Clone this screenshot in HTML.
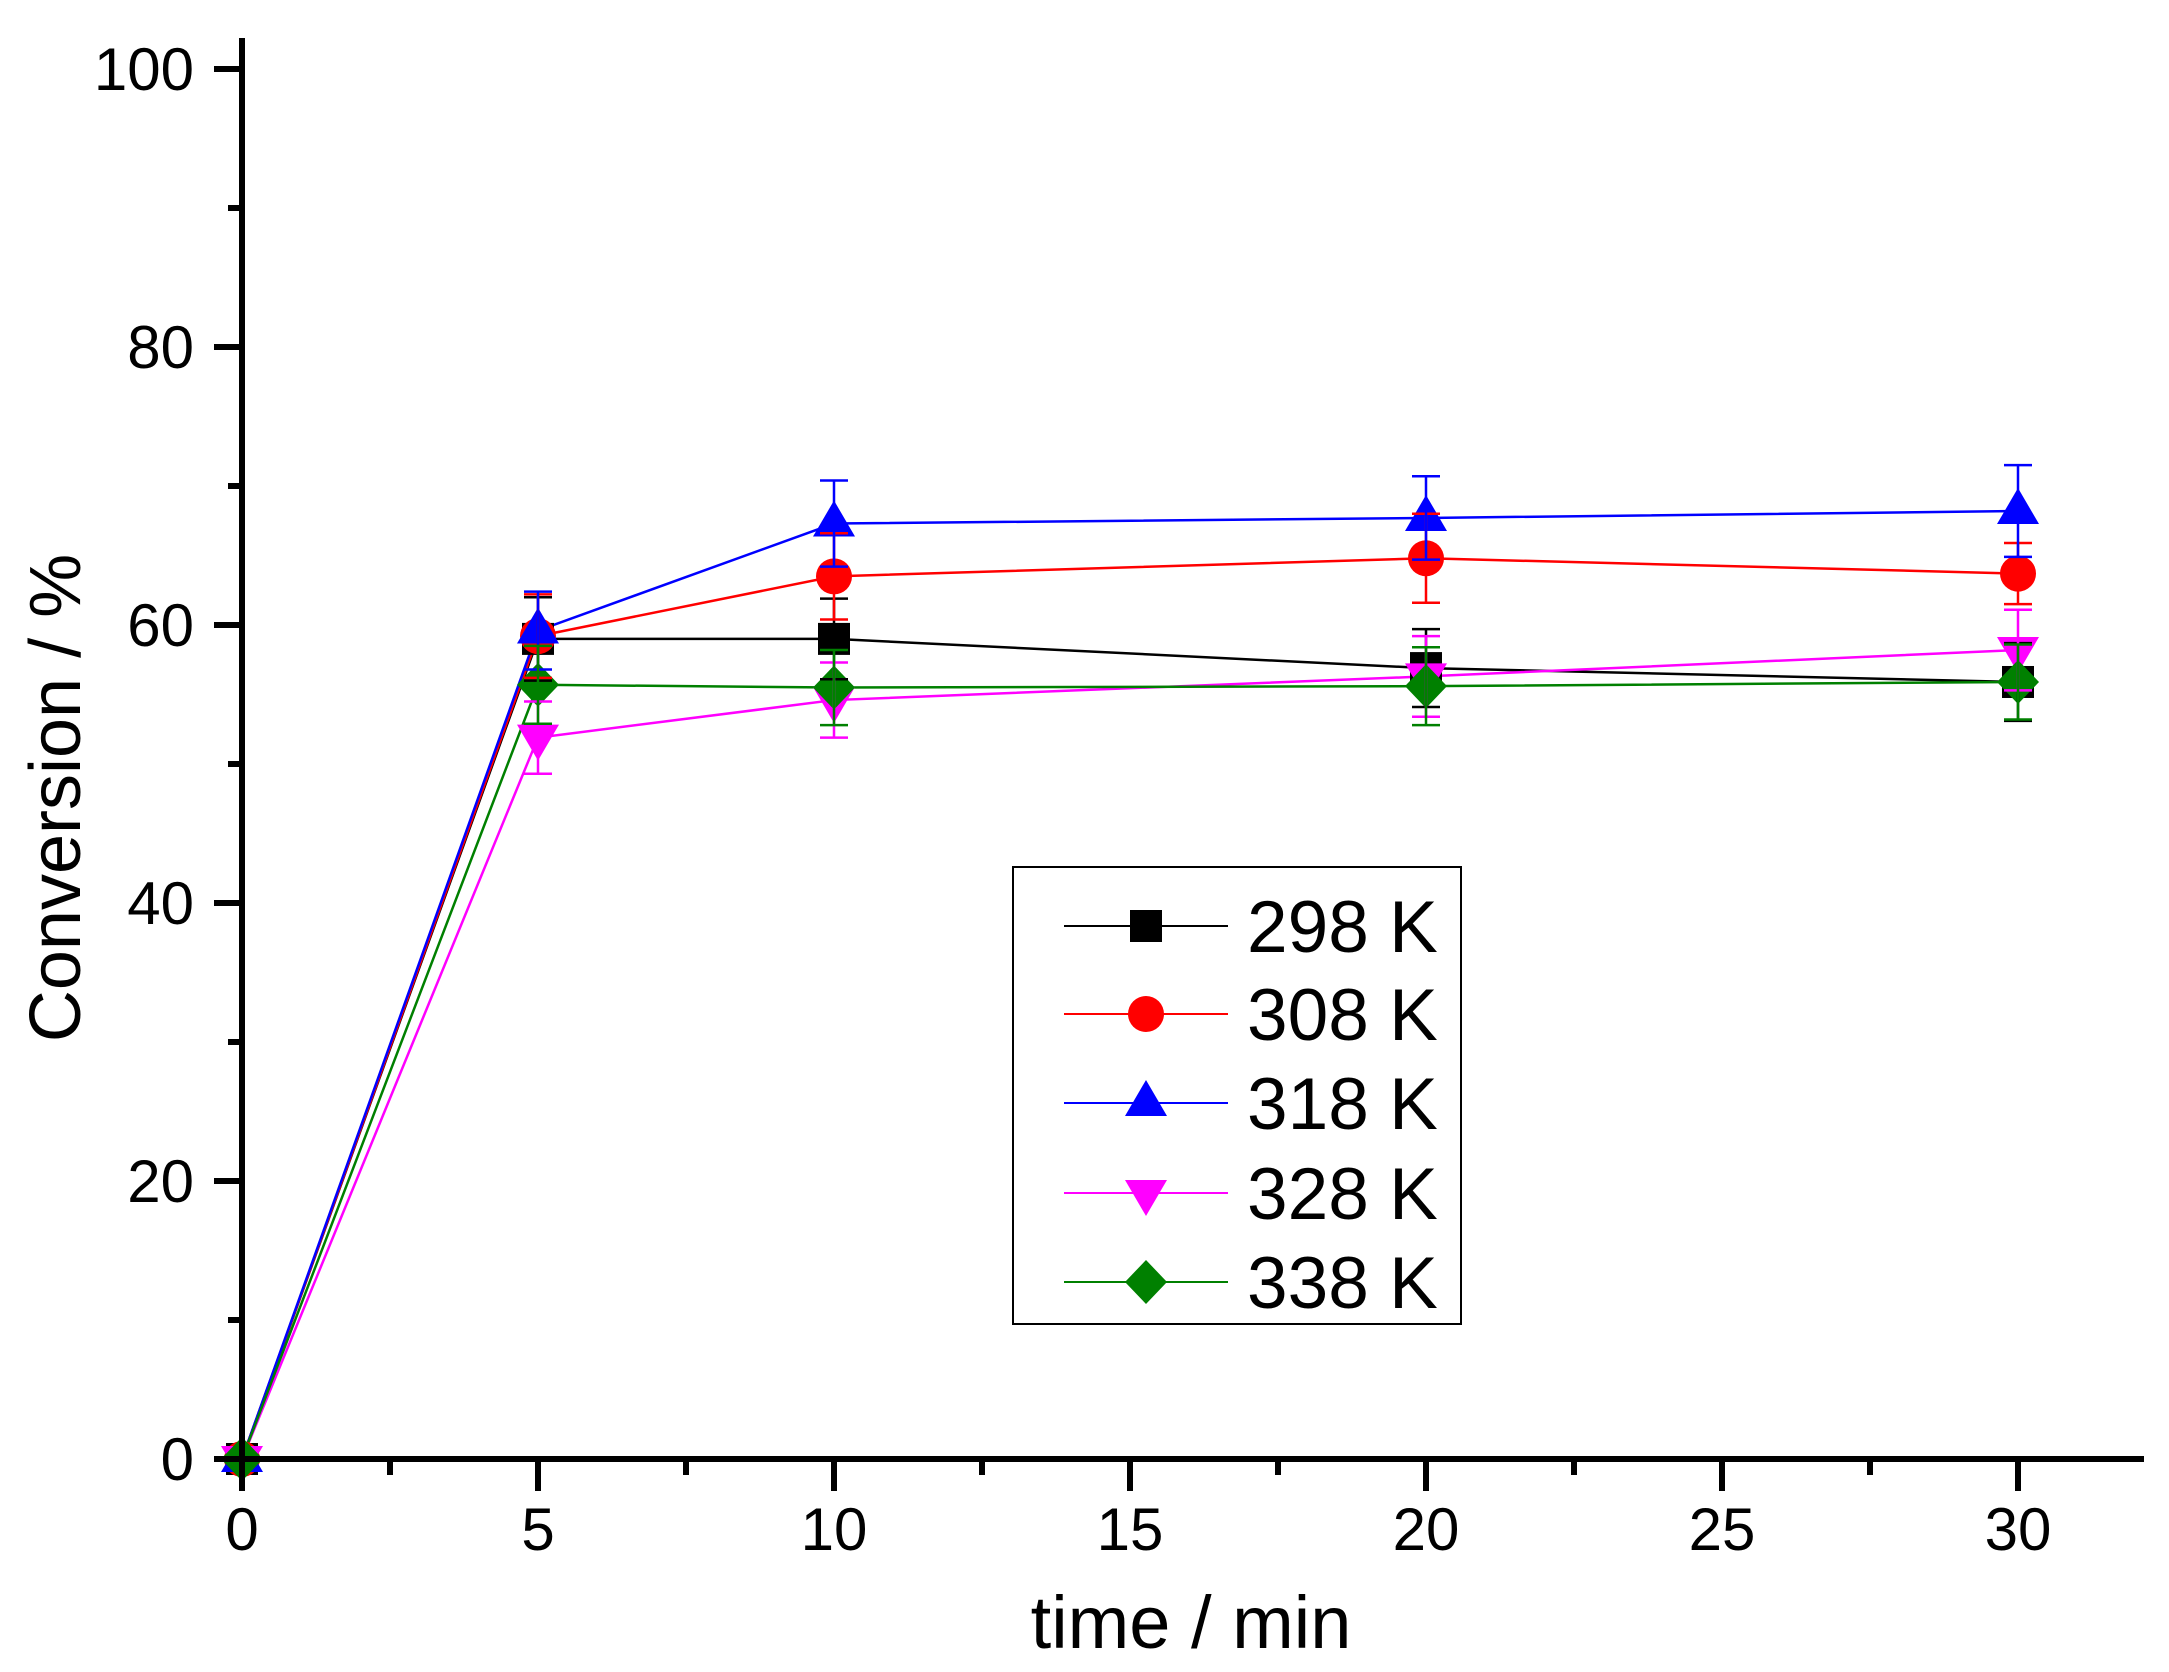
<!DOCTYPE html>
<html><head><meta charset="utf-8"><style>html,body{margin:0;padding:0;background:#fff}svg{display:block}</style></head>
<body>
<svg id="c" width="2169" height="1672" viewBox="0 0 2169 1672" xmlns="http://www.w3.org/2000/svg" font-family="Liberation Sans, Arial, sans-serif">
<g id="plot"></g>
<g stroke="#000" stroke-width="6" fill="none">
<line x1="242" y1="38" x2="242" y2="1491"/>
<line x1="214" y1="1459" x2="2144" y2="1459"/>
</g>
<g id="ticks" stroke="#000" stroke-width="6"></g>
<g id="labels" font-size="60" fill="#000"></g>
<text x="1191" y="1648" font-size="74" text-anchor="middle">time / min</text>
<text transform="translate(80,798) rotate(-90)" font-size="72" text-anchor="middle">Conversion / %</text>
<rect x="1013" y="867" width="448" height="457" fill="#fff" stroke="#000" stroke-width="2"/>
<g id="legend"></g>
<script>
var NS="http://www.w3.org/2000/svg";
function el(p,t,a,txt){var e=document.createElementNS(NS,t);for(var k in a)e.setAttribute(k,a[k]);if(txt!==undefined)e.textContent=txt;p.appendChild(e);return e;}
function X(t){return 242+59.2*t;} function Y(v){return 1459-13.9*v;}
var tk=document.getElementById('ticks'),lb=document.getElementById('labels');
for(var v=0;v<=100;v+=10){var maj=v%20==0;el(tk,'line',{x1:maj?214:228,y1:Y(v),x2:242,y2:Y(v)});if(maj)el(lb,'text',{x:194,y:Y(v)+21,'text-anchor':'end'},v);}
for(var t=0;t<=32;t+=2.5){var maj=t%5==0;el(tk,'line',{x1:X(t),y1:1459,x2:X(t),y2:maj?1491:1475});if(maj)el(lb,'text',{x:X(t),y:1550,'text-anchor':'middle'},t);}
var T=[0,5,10,20,30];
var S=[
{c:'#000',m:'sq',v:[0,59,59,56.9,55.9],e:[0,3,2.9,2.8,2.8]},
{c:'#f00',m:'ci',v:[0,59.2,63.5,64.8,63.7],e:[0,3,3.1,3.2,2.2]},
{c:'#00f',m:'up',v:[0,59.6,67.3,67.7,68.2],e:[0,2.8,3.1,3,3.3]},
{c:'#f0f',m:'dn',v:[0,51.9,54.6,56.3,58.2],e:[0,2.6,2.7,2.9,2.9]},
{c:'#008000',m:'di',v:[0,55.7,55.5,55.6,55.9],e:[0,2.8,2.7,2.8,2.7]}];
function mk(p,m,x,y,c){
 if(m=='sq')el(p,'rect',{x:x-16,y:y-16,width:32,height:32,fill:c});
 else if(m=='ci')el(p,'circle',{cx:x,cy:y,r:18,fill:c});
 else if(m=='up')el(p,'polygon',{points:(x)+','+(y-23)+' '+(x-21)+','+(y+13)+' '+(x+21)+','+(y+13),fill:c});
 else if(m=='dn')el(p,'polygon',{points:(x)+','+(y+23)+' '+(x-21)+','+(y-13)+' '+(x+21)+','+(y-13),fill:c});
 else el(p,'polygon',{points:x+','+(y-22)+' '+(x+21)+','+y+' '+x+','+(y+22)+' '+(x-21)+','+y,fill:c});
}
var pl=document.getElementById('plot');
S.forEach(function(s){var pts=T.map(function(t,i){return X(t)+','+Y(s.v[i]);}).join(' ');el(pl,'polyline',{points:pts,fill:'none',stroke:s.c,'stroke-width':2.5});});
S.forEach(function(s){T.forEach(function(t,i){mk(pl,s.m,X(t),Y(s.v[i]),s.c);});});
S.forEach(function(s){T.forEach(function(t,i){if(!s.e[i])return;var x=X(t),a=Y(s.v[i]+s.e[i]),b=Y(s.v[i]-s.e[i]);
 el(pl,'line',{x1:x,y1:a,x2:x,y2:b,stroke:s.c,'stroke-width':2.5});
 el(pl,'line',{x1:x-14,y1:a,x2:x+14,y2:a,stroke:s.c,'stroke-width':2.5});
 el(pl,'line',{x1:x-14,y1:b,x2:x+14,y2:b,stroke:s.c,'stroke-width':2.5});});});
var lg=document.getElementById('legend');var names=['298 K','308 K','318 K','328 K','338 K'];var ly=[926,1014,1103,1193,1282];
S.forEach(function(s,i){el(lg,'line',{x1:1064,y1:ly[i],x2:1228,y2:ly[i],stroke:s.c,'stroke-width':2});mk(lg,s.m,1146,ly[i],s.c);
 el(lg,'text',{x:1247,y:ly[i]+26,'font-size':73},names[i]);});
</script>
</svg>
</body></html>
